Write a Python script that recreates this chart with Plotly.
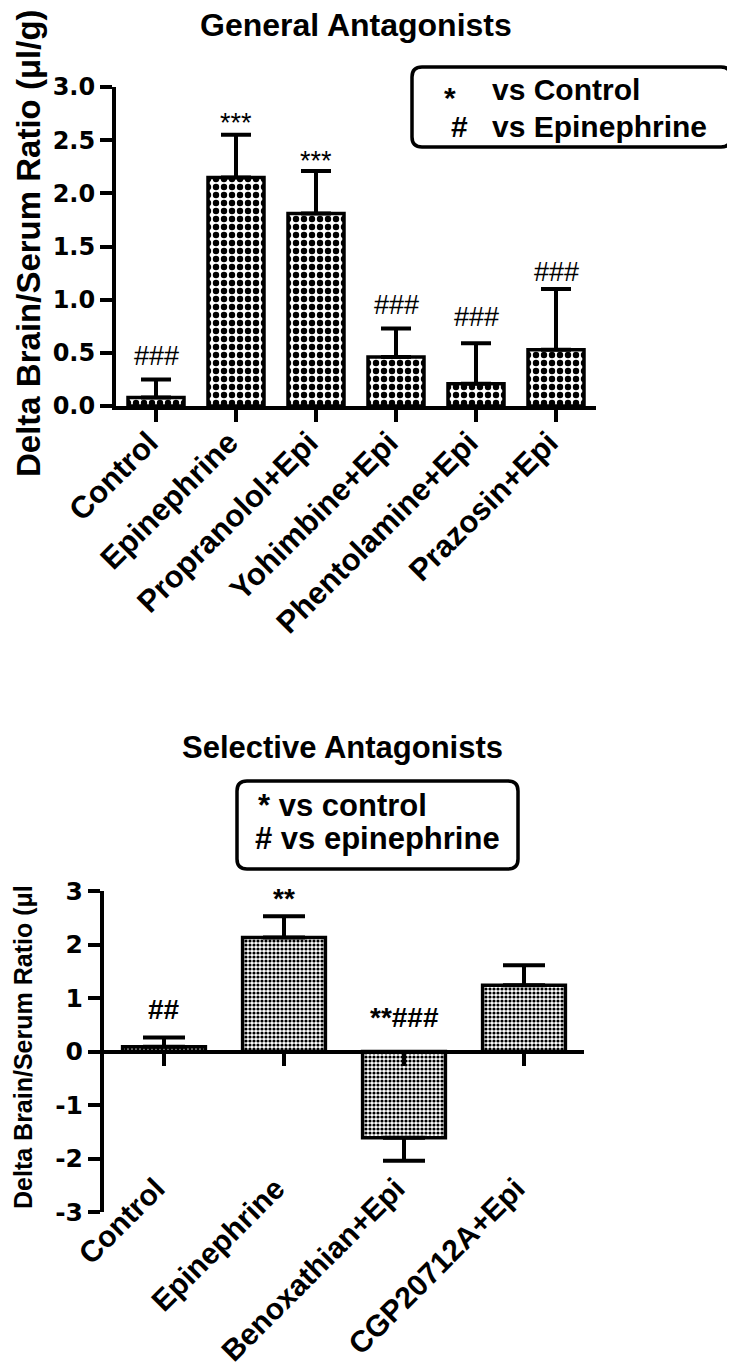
import plotly.graph_objects as go

W, H = 735, 1371
OFF = 8  # the page body margin shifts the figure by this many pixels
FONT = "Liberation Sans, Arial, Helvetica, sans-serif"
TICKFONT = "DejaVu Sans, Liberation Sans, Arial, sans-serif"

# ---------------- data: General Antagonists ----------------
gen_categories = ["Control", "Epinephrine", "Propranolol+Epi", "Yohimbine+Epi",
                  "Phentolamine+Epi", "Prazosin+Epi"]
gen_means = [0.08, 2.15, 1.81, 0.46, 0.21, 0.53]
gen_errors = [0.17, 0.40, 0.40, 0.27, 0.38, 0.57]
gen_marks = ["###", "***", "***", "###", "###", "###"]
gen_mark_y = [0.47, 2.72, 2.36, 0.95, 0.84, 1.26]
gen_tickvals = [0, 0.5, 1.0, 1.5, 2.0, 2.5, 3.0]
gen_ticktext = ["0.0", "0.5", "1.0", "1.5", "2.0", "2.5", "3.0"]

# ---------------- data: Selective Antagonists ----------------
sel_categories = ["Control", "Epinephrine", "Benoxathian+Epi", "CGP20712A+Epi"]
sel_means = [0.09, 2.13, -1.61, 1.24]
sel_errors = [0.17, 0.40, 0.43, 0.37]
sel_marks = ["##", "**", "**###", ""]
sel_mark_y = [0.79, 2.98, 0.64, 0.0]
sel_tickvals = [-3, -2, -1, 0, 1, 2, 3]
sel_ticktext = ["-3", "-2", "-1", "0", "1", "2", "3"]

# ---------------- layout geometry (screen pixels) ----------------
TOP = dict(l=116, r=596, t=87, b=406)
BOT = dict(l=104, r=584, t=891, b=1212)


def px(x):
    return (x - OFF) / W


def py(y):
    return 1 - (y - OFF) / H


def rounded_box(x0, y0, x1, y1, r=10):
    pts = [
        ("M", [(x0 + r, y0)]), ("L", [(x1 - r, y0)]), ("Q", [(x1, y0), (x1, y0 + r)]),
        ("L", [(x1, y1 - r)]), ("Q", [(x1, y1), (x1 - r, y1)]), ("L", [(x0 + r, y1)]),
        ("Q", [(x0, y1), (x0, y1 - r)]), ("L", [(x0, y0 + r)]), ("Q", [(x0, y0), (x0 + r, y0)]),
    ]
    s = ""
    for cmd, ps in pts:
        s += cmd + " ".join(f"{px(a):.5f},{py(b):.5f}" for a, b in ps) + " "
    return s + "Z"


def err_split(means, errs):
    up = [e if m >= 0 else 0 for m, e in zip(means, errs)]
    dn = [0 if m >= 0 else e for m, e in zip(means, errs)]
    return up, dn


fig = go.Figure()

gu, gd = err_split(gen_means, gen_errors)
fig.add_trace(go.Bar(
    x=gen_categories, y=gen_means, width=0.7, xaxis="x", yaxis="y",
    marker=dict(color="white", line=dict(color="black", width=3.5),
                pattern=dict(shape=".", size=8, solidity=0.5, fgcolor="black",
                             bgcolor="white", fillmode="replace")),
    error_y=dict(type="data", symmetric=False, array=gu, arrayminus=gd,
                 color="black", thickness=4, width=15),
    hoverinfo="skip", showlegend=False))

su, sd = err_split(sel_means, sel_errors)
fig.add_trace(go.Bar(
    x=sel_categories, y=sel_means, width=0.69, xaxis="x2", yaxis="y2",
    marker=dict(color="white", line=dict(color="black", width=3.5),
                pattern=dict(shape=".", size=4, solidity=0.5, fgcolor="black",
                             bgcolor="white", fillmode="replace")),
    error_y=dict(type="data", symmetric=False, array=su, arrayminus=sd,
                 color="black", thickness=4, width=21),
    hoverinfo="skip", showlegend=False))

# helper (invisible) trace for the label axis of the lower panel
sel_idx = list(range(len(sel_categories)))
fig.add_trace(go.Scatter(x=sel_idx, y=[0] * len(sel_idx), mode="markers",
                         marker=dict(opacity=0), xaxis="x3", yaxis="y2",
                         hoverinfo="skip", showlegend=False))

axis_common = dict(showline=True, linewidth=4, linecolor="black", ticks="outside",
                   ticklen=12, tickwidth=4, tickcolor="black", showgrid=False,
                   zeroline=False, fixedrange=True, automargin=False)

top_dom_y = [py(TOP["b"]), py(TOP["t"])]
bot_dom_y = [py(BOT["b"]), py(BOT["t"])]
zero_pos = bot_dom_y[0] + (0 - sel_tickvals[0]) / (sel_tickvals[-1] - sel_tickvals[0]) * (bot_dom_y[1] - bot_dom_y[0])

fig.update_layout(
    width=W, height=H, margin=dict(l=0, r=0, t=0, b=0, autoexpand=False),
    paper_bgcolor="white", plot_bgcolor="rgba(0,0,0,0)", showlegend=False,
    xaxis=dict(domain=[px(TOP["l"]), px(TOP["r"])], anchor="y", type="category",
               range=[-0.5, len(gen_categories) - 0.5], tickangle=-45,
               ticklabelshift=-7, ticklabelstandoff=-10,
               tickfont=dict(family=FONT, size=31, color="black", weight="bold"),
               **axis_common),
    yaxis=dict(domain=top_dom_y, anchor="x", range=[0, 3],
               tickvals=gen_tickvals, ticktext=gen_ticktext,
               tickfont=dict(family=TICKFONT, size=24, color="black", weight="bold"),
               **axis_common),
    xaxis2=dict(domain=[px(BOT["l"]), px(BOT["r"])], anchor="free", position=zero_pos,
                type="category", range=[-0.5, len(sel_categories) - 0.5],
                showticklabels=False, **axis_common),
    xaxis3=dict(overlaying="x2", anchor="free", position=py(1164),
                range=[-0.5, len(sel_categories) - 0.5], tickvals=sel_idx,
                ticktext=sel_categories, tickangle=-45, showline=False, ticks="",
                ticklabelshift=-8,
                showgrid=False, zeroline=False, automargin=False, fixedrange=True,
                tickfont=dict(family=FONT, size=30, color="black", weight="bold")),
    yaxis2=dict(domain=bot_dom_y, anchor="x2", range=[-3, 3],
                tickvals=sel_tickvals, ticktext=sel_ticktext,
                tickfont=dict(family=TICKFONT, size=25, color="black", weight="bold"),
                **axis_common),
)

annotations = []
# titles
annotations.append(dict(text="<b>General Antagonists</b>", x=px(356), y=py(25), xref="paper",
                        yref="paper", showarrow=False, xanchor="center", yanchor="middle",
                        font=dict(family=FONT, size=32, color="black")))
annotations.append(dict(text="<b>Selective Antagonists</b>", x=px(342), y=py(747), xref="paper",
                        yref="paper", showarrow=False, xanchor="center", yanchor="middle",
                        font=dict(family=FONT, size=31, color="black")))
# y-axis titles
annotations.append(dict(text="<b>Delta Brain/Serum Ratio (μl/g)</b>", x=px(28), y=py(243),
                        xref="paper", yref="paper", showarrow=False, textangle=-90,
                        xanchor="center", yanchor="middle",
                        font=dict(family=FONT, size=33, color="black")))
annotations.append(dict(text="<b>Delta Brain/Serum Ratio (μl</b>", x=px(23), y=py(1047),
                        xref="paper", yref="paper", showarrow=False, textangle=-90,
                        xanchor="center", yanchor="middle",
                        font=dict(family=FONT, size=25, color="black")))
# legend boxes text
for t, x, y in [("*", 450, 97), ("#", 459, 126)]:
    annotations.append(dict(text=f"<b>{t}</b>", x=px(x), y=py(y), xref="paper", yref="paper",
                            showarrow=False, xanchor="center", yanchor="middle",
                            font=dict(family=FONT, size=30, color="black")))
for t, y in [("vs Control", 90), ("vs Epinephrine", 126)]:
    annotations.append(dict(text=f"<b>{t}</b>", x=px(490), y=py(y), xref="paper", yref="paper",
                            showarrow=False, xanchor="left", yanchor="middle",
                            font=dict(family=FONT, size=30, color="black")))
for t, x, y in [("* vs control", 256, 805), ("# vs epinephrine", 253, 839)]:
    annotations.append(dict(text=f"<b>{t}</b>", x=px(x), y=py(y), xref="paper", yref="paper",
                            showarrow=False, xanchor="left", yanchor="middle",
                            font=dict(family=FONT, size=31, color="black")))

# significance marks
for c, m, yv in zip(gen_categories, gen_marks, gen_mark_y):
    annotations.append(dict(text=m, x=c, y=yv, xref="x", yref="y", showarrow=False,
                            xanchor="center", yanchor="middle",
                            yshift=-6 if set(m) == {"*"} else 0,
                            font=dict(family=FONT, size=27, color="black")))
for c, m, yv in zip(sel_categories, sel_marks, sel_mark_y):
    if not m:
        continue
    annotations.append(dict(text=f"<b>{m}</b>", x=c, y=yv, xref="x2", yref="y2", showarrow=False,
                            xanchor="center", yanchor="middle",
                            yshift=-6 if set(m) == {"*"} else 0,
                            font=dict(family=FONT, size=28, color="black")))

fig.update_layout(annotations=annotations)

fig.update_layout(shapes=[
    dict(type="path", path=rounded_box(412, 67, 731, 147), xref="paper", yref="paper",
         line=dict(color="black", width=3.5), fillcolor="rgba(0,0,0,0)"),
    dict(type="path", path=rounded_box(237, 781, 518, 869), xref="paper", yref="paper",
         line=dict(color="black", width=3.5), fillcolor="rgba(0,0,0,0)"),
])

fig.write_html("out.html")
